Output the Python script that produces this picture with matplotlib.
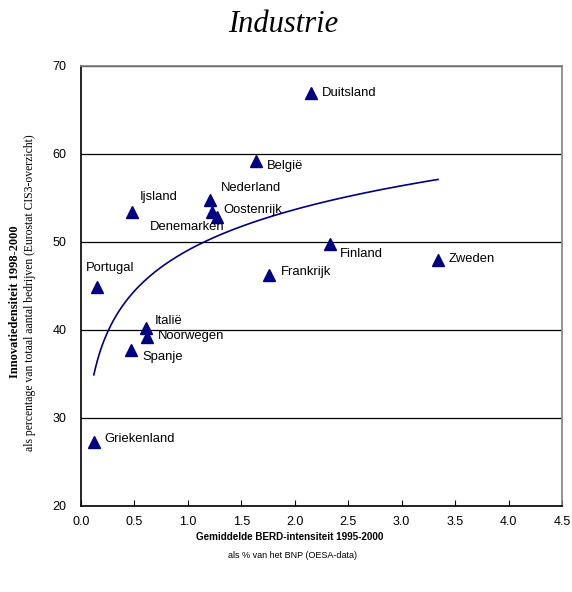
import numpy as np
import matplotlib
matplotlib.use('Agg')
import matplotlib.pyplot as plt

# BERD-intensiteit (x) en innovatiedensiteit (y) per land
landen = ['Duitsland', 'België', 'Nederland', 'Oostenrijk', 'Denemarken', 'Ijsland',
          'Portugal', 'Frankrijk', 'Finland', 'Zweden', 'Italië', 'Noorwegen',
          'Spanje', 'Griekenland']
berd = [2.15, 1.64, 1.21, 1.23, 1.27, 0.48, 0.15, 1.76, 2.33, 3.34, 0.61, 0.62, 0.47, 0.12]
innovatie = [66.9, 59.2, 54.8, 53.4, 52.8, 53.4, 44.9, 46.2, 49.8, 47.9, 40.2, 39.2, 37.7, 27.3]

# label offsets in pixels (dx, dy)
offsets = {
    'Duitsland': (11, 0), 'België': (11, -5), 'Nederland': (11, 12),
    'Oostenrijk': (11, 2), 'Denemarken': (-67, -10), 'Ijsland': (7, 15),
    'Portugal': (-11, 19), 'Frankrijk': (12, 3), 'Finland': (10, -10),
    'Zweden': (11, 1), 'Italië': (9, 7), 'Noorwegen': (11, 1),
    'Spanje': (11, -7), 'Griekenland': (11, 3),
}

navy = '#000080'
sans = 'Liberation Sans'
serif = 'Liberation Serif'

fig = plt.figure(figsize=(5.72, 5.92), dpi=100)
ax = fig.add_axes([81 / 572, 1 - 506 / 592, 481 / 572, 440 / 592])

ax.plot(berd, innovatie, linestyle='none', marker='^', color=navy, markersize=8.5)

# logaritmische trendlijn door de punten
x = np.array(berd)
b, a = np.polyfit(np.log(x), np.array(innovatie), 1)
xs = np.linspace(x.min(), x.max(), 200)
ax.plot(xs, a + b * np.log(xs), color=navy, linewidth=1.2)

for naam, xv, yv in zip(landen, berd, innovatie):
    dx, dy = offsets[naam]
    ax.annotate(naam, (xv, yv), xytext=(dx, dy), textcoords='offset pixels',
                ha='left', va='center', fontsize=9.4, family=sans)

ax.set_xlim(0, 4.5)
ax.set_ylim(20, 70)
ax.set_xticks(np.arange(0, 4.51, 0.5))
ax.set_yticks(np.arange(20, 71, 10))
ax.set_xticklabels([f'{v:.1f}' for v in np.arange(0, 4.51, 0.5)], family=sans, fontsize=9)
ax.set_yticklabels([f'{v}' for v in range(20, 71, 10)], family=sans, fontsize=9)
ax.tick_params(axis='x', direction='in', length=4, pad=7)
ax.tick_params(axis='y', direction='out', length=0, pad=10.5)
ax.grid(axis='y', color='black', linewidth=0.9)
ax.set_axisbelow(True)
for s in ['left', 'bottom']:
    ax.spines[s].set_color('black')
    ax.spines[s].set_linewidth(1.2)
for s in ['top', 'right']:
    ax.spines[s].set_color('#808080')
    ax.spines[s].set_linewidth(1.2)

fig.text(283 / 572, 1 - 24 / 592, 'Industrie', ha='center', va='center',
         fontsize=22, style='italic', family=serif)
fig.text(290 / 572, 1 - 537 / 592, 'Gemiddelde BERD-intensiteit 1995-2000',
         ha='center', va='center', fontsize=7.1, fontweight='bold', family=sans)
fig.text(292 / 572, 1 - 555 / 592, 'als % van het BNP (OESA-data)',
         ha='center', va='center', fontsize=6.5, family=sans)
fig.text(15 / 572, 1 - 302 / 592, 'Innovatiedensiteit 1998-2000', rotation=90,
         ha='center', va='center', fontsize=8.9, fontweight='bold', family=serif)
fig.text(30 / 572, 1 - 293 / 592, 'als percentage van totaal aantal bedrijven (Eurostat CIS3-overzicht)',
         rotation=90, ha='center', va='center', fontsize=8.4, family=serif)

fig.savefig('out.png', dpi=100)
